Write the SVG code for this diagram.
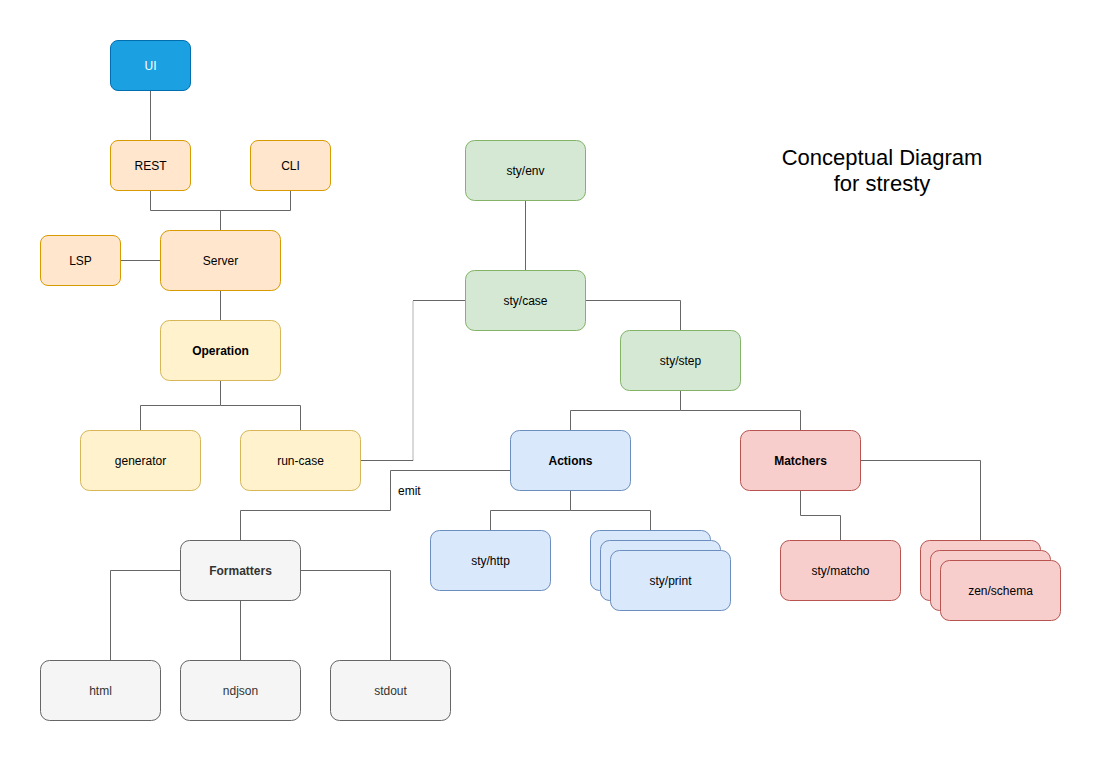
<svg xmlns="http://www.w3.org/2000/svg" width="1101" height="761" viewBox="0 0 1101 761">
<style>
.n{stroke-width:1}
.t{font-family:"Liberation Sans",Arial,Helvetica,sans-serif;font-size:12px;fill:#000;text-anchor:middle;dominant-baseline:central}
.b{font-weight:bold}
.blue{fill:#1ba1e2;stroke:#006eaf}
.org{fill:#ffe6cc;stroke:#d79b00}
.yel{fill:#fff2cc;stroke:#d6b656}
.grn{fill:#d5e8d4;stroke:#82b366}
.lb{fill:#dae8fc;stroke:#6c8ebf}
.red{fill:#f8cecc;stroke:#b85450}
.gry{fill:#f5f5f5;stroke:#666666}
.e{fill:none;stroke:#666666;stroke-width:1}
.d{stroke-dasharray:1 1}
.ttl{font-family:"Liberation Sans",Arial,sans-serif;font-size:22px;text-anchor:middle;fill:#000}
</style>
<rect width="1101" height="761" fill="#ffffff"/>
<g id="connectors">
<path class="e" d="M150.5 90V140"/>
<path class="e" d="M150.5 190V210.5H290.5V190"/>
<path class="e" d="M220.5 210.5V230"/>
<path class="e" d="M120 260.5H160"/>
<path class="e" d="M220.5 290V320"/>
<path class="e" d="M220.5 380V405.5H140.5V430"/>
<path class="e" d="M220.5 405.5H300.5V430"/>
<path class="e" d="M360 460.5H413"/>
<path class="e d" d="M413 460.5V300.5"/>
<path class="e" d="M413 300.5H465"/>
<path class="e" d="M525.5 200V270"/>
<path class="e" d="M585 300.5H680.5V330"/>
<path class="e" d="M680.5 390V410.5H570.5V430"/>
<path class="e" d="M680.5 410.5H800.5V430"/>
<path class="e" d="M510 470.5H390.5V510.5H240.5V540"/>
<path class="e" d="M570.5 490V510.5H490.5V530"/>
<path class="e" d="M570.5 510.5H650.5V530"/>
<path class="e" d="M800.5 490V515.5H840.5V540"/>
<path class="e" d="M860 460.5H980.5V540"/>
<path class="e" d="M180 570.5H110.5V660"/>
<path class="e" d="M240.5 600V660"/>
<path class="e" d="M300 570.5H390.5V660"/>
<text class="t" x="398" y="491" style="text-anchor:start">emit</text>
</g>
<g id="ui"><rect class="n blue" x="110.5" y="40.5" width="80" height="50" rx="7.5"/><text class="t" x="150.5" y="65.5" style="fill:#ffffff">UI</text></g>
<g id="rest"><rect class="n org" x="110.5" y="140.5" width="80" height="50" rx="7.5"/><text class="t" x="150.5" y="165.5">REST</text></g>
<g id="cli"><rect class="n org" x="250.5" y="140.5" width="80" height="50" rx="7.5"/><text class="t" x="290.5" y="165.5">CLI</text></g>
<g id="lsp"><rect class="n org" x="40.5" y="235.5" width="80" height="50" rx="7.5"/><text class="t" x="80.5" y="260.5">LSP</text></g>
<g id="server"><rect class="n org" x="160.5" y="230.5" width="120" height="60" rx="9"/><text class="t" x="220.5" y="260.5">Server</text></g>
<g id="operation"><rect class="n yel" x="160.5" y="320.5" width="120" height="60" rx="9"/><text class="t b" x="220.5" y="350.5">Operation</text></g>
<g id="generator"><rect class="n yel" x="80.5" y="430.5" width="120" height="60" rx="9"/><text class="t" x="140.5" y="460.5">generator</text></g>
<g id="run-case"><rect class="n yel" x="240.5" y="430.5" width="120" height="60" rx="9"/><text class="t" x="300.5" y="460.5">run-case</text></g>
<g id="sty-env"><rect class="n grn" x="465.5" y="140.5" width="120" height="60" rx="9"/><text class="t" x="525.5" y="170.5">sty/env</text></g>
<g id="sty-case"><rect class="n grn" x="465.5" y="270.5" width="120" height="60" rx="9"/><text class="t" x="525.5" y="300.5">sty/case</text></g>
<g id="sty-step"><rect class="n grn" x="620.5" y="330.5" width="120" height="60" rx="9"/><text class="t" x="680.5" y="360.5">sty/step</text></g>
<g id="actions"><rect class="n lb" x="510.5" y="430.5" width="120" height="60" rx="9"/><text class="t b" x="570.5" y="460.5">Actions</text></g>
<g id="matchers"><rect class="n red" x="740.5" y="430.5" width="120" height="60" rx="9"/><text class="t b" x="800.5" y="460.5">Matchers</text></g>
<g id="sty-http"><rect class="n lb" x="430.5" y="530.5" width="120" height="60" rx="9"/><text class="t" x="490.5" y="560.5">sty/http</text></g>
<g id="sty-print">
<rect class="n lb" x="590.5" y="530.5" width="120" height="60" rx="9"/>
<rect class="n lb" x="600.5" y="540.5" width="120" height="60" rx="9"/>
<rect class="n lb" x="610.5" y="550.5" width="120" height="60" rx="9"/>
<text class="t" x="670.5" y="580.5">sty/print</text></g>
<g id="sty-matcho"><rect class="n red" x="780.5" y="540.5" width="120" height="60" rx="9"/><text class="t" x="840.5" y="570.5">sty/matcho</text></g>
<g id="zen-schema">
<rect class="n red" x="920.5" y="540.5" width="120" height="60" rx="9"/>
<rect class="n red" x="930.5" y="550.5" width="120" height="60" rx="9"/>
<rect class="n red" x="940.5" y="560.5" width="120" height="60" rx="9"/>
<text class="t" x="1000.5" y="590.5">zen/schema</text></g>
<g id="formatters"><rect class="n gry" x="180.5" y="540.5" width="120" height="60" rx="9"/><text class="t b" x="240.5" y="570.5" style="fill:#333333">Formatters</text></g>
<g id="html"><rect class="n gry" x="40.5" y="660.5" width="120" height="60" rx="9"/><text class="t" x="100.5" y="690.5" style="fill:#333333">html</text></g>
<g id="ndjson"><rect class="n gry" x="180.5" y="660.5" width="120" height="60" rx="9"/><text class="t" x="240.5" y="690.5" style="fill:#333333">ndjson</text></g>
<g id="stdout"><rect class="n gry" x="330.5" y="660.5" width="120" height="60" rx="9"/><text class="t" x="390.5" y="690.5" style="fill:#333333">stdout</text></g>
<g id="title">
<text class="ttl" x="882" y="165">Conceptual Diagram</text>
<text class="ttl" x="882" y="191">for stresty</text>
</g>
</svg>
